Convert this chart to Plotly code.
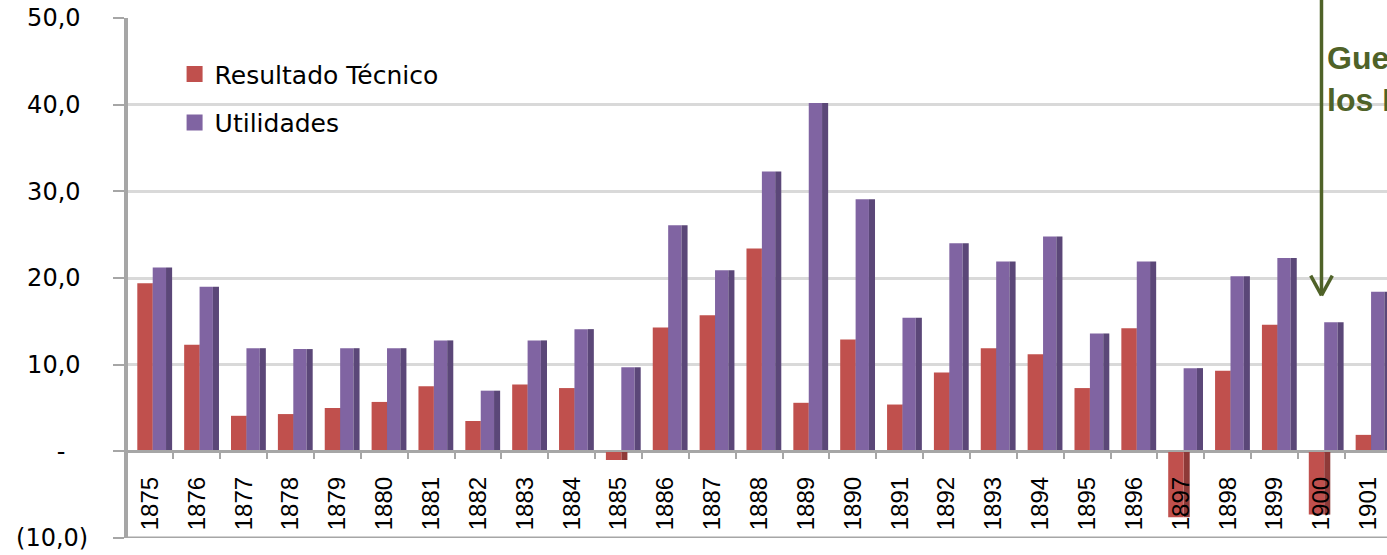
import plotly.graph_objects as go

# Años del período y resultados anuales (miles)
years = [str(y) for y in range(1875, 1902)]
resultado_tecnico = [19.4, 12.3, 4.1, 4.3, 5.0, 5.7, 7.5, 3.5, 7.7, 7.3,
                     -1.0, 14.3, 15.7, 23.4, 5.6, 12.9, 5.4, 9.1, 11.9, 11.2,
                     7.3, 14.2, -7.6, 9.3, 14.6, -7.3, 1.9]
utilidades = [21.2, 19.0, 11.9, 11.8, 11.9, 11.9, 12.8, 7.0, 12.8, 14.1,
              9.7, 26.1, 20.9, 32.3, 40.2, 29.1, 15.4, 24.0, 21.9, 24.8,
              13.6, 21.9, 9.6, 20.2, 22.3, 14.9, 18.4]

y_tick_values = [-10, 0, 10, 20, 30, 40, 50]
y_tick_labels = ["(10,0)", "-\u00a0\u00a0\u00a0", "10,0\u00a0", "20,0\u00a0",
                 "30,0\u00a0", "40,0\u00a0", "50,0\u00a0"]

annotation_text = "Guerra de<br>los Mil Días"
annotation_year_index = years.index("1900")
annotation_value = 18.0

RED = "#C0504D"
RED_SIDE = "#8E3A38"
PURPLE = "#8064A2"
PURPLE_SIDE = "#5B4778"
AXIS_GREY = "#A6A6A6"
OLIVE = "#4F6228"

Y_MIN, Y_MAX = -10, 50

# bar geometry in category units (front face + shaded right side)
RED_OFFSET, RED_WIDTH = -0.271, 0.329
PURPLE_OFFSET, PURPLE_WIDTH = 0.058, 0.284
SIDE_WIDTH = 0.13

fig = go.Figure()

fig.add_trace(go.Bar(
    x=years, y=resultado_tecnico, name="Resultado Técnico",
    offset=RED_OFFSET + RED_WIDTH, width=SIDE_WIDTH,
    marker=dict(color=RED_SIDE, line=dict(width=0)),
    legendgroup="rt", showlegend=False, hoverinfo="skip"))
fig.add_trace(go.Bar(
    x=years, y=resultado_tecnico, name="Resultado Técnico",
    offset=RED_OFFSET, width=RED_WIDTH,
    marker=dict(color=RED, line=dict(width=0)),
    legendgroup="rt", showlegend=False))
fig.add_trace(go.Bar(
    x=years, y=utilidades, name="Utilidades",
    offset=PURPLE_OFFSET, width=PURPLE_WIDTH,
    marker=dict(color=PURPLE, line=dict(width=0)),
    legendgroup="ut", showlegend=False))
fig.add_trace(go.Bar(
    x=years, y=utilidades, name="Utilidades",
    offset=PURPLE_OFFSET + PURPLE_WIDTH, width=SIDE_WIDTH,
    marker=dict(color=PURPLE_SIDE, line=dict(width=0)),
    legendgroup="ut", showlegend=False, hoverinfo="skip"))

# legend keys: large square swatches for each series
for name, color, group in [("Resultado Técnico", RED, "rt"),
                           ("Utilidades", PURPLE, "ut")]:
    fig.add_trace(go.Scatter(
        x=[None], y=[None], name=name, mode="markers",
        marker=dict(symbol="square", size=19, color=color),
        legendgroup=group, showlegend=True, hoverinfo="skip"))

# arrow pointing at the 1900 column
tip_paper = (annotation_value - Y_MIN) / (Y_MAX - Y_MIN)
head_h = 0.038
head_w = 0.23
arrow_line = dict(color=OLIVE, width=3.5)
shapes = [
    dict(type="line", xref="paper", yref="y", x0=0, x1=1, y0=Y_MIN, y1=Y_MIN,
         line=dict(color=AXIS_GREY, width=3)),
    dict(type="line", xref="x", yref="paper",
         x0=annotation_year_index, x1=annotation_year_index,
         y0=tip_paper, y1=1.06, line=arrow_line),
    dict(type="line", xref="x", yref="paper",
         x0=annotation_year_index - head_w, x1=annotation_year_index,
         y0=tip_paper + head_h, y1=tip_paper, line=arrow_line),
    dict(type="line", xref="x", yref="paper",
         x0=annotation_year_index + head_w, x1=annotation_year_index,
         y0=tip_paper + head_h, y1=tip_paper, line=arrow_line),
]

fig.update_layout(
    width=1387, height=555,
    margin=dict(l=128, r=0, t=18, b=17, pad=0),
    paper_bgcolor="white", plot_bgcolor="white",
    barmode="overlay",
    shapes=shapes,
    legend=dict(
        x=0.037, y=0.936, xanchor="left", yanchor="top",
        bgcolor="rgba(0,0,0,0)",
        font=dict(family="DejaVu Sans", size=25, color="black"),
        tracegroupgap=13,
    ),
    annotations=[dict(
        text="<b>" + annotation_text + "</b>",
        xref="paper", yref="paper", x=0.9507, y=0.883,
        xanchor="left", yanchor="middle", align="left",
        showarrow=False,
        font=dict(family="Liberation Sans", size=32, color=OLIVE),
    )],
    xaxis=dict(
        type="category", range=[-0.4695, 26.398],
        anchor="free", position=(0 - Y_MIN) / (Y_MAX - Y_MIN),
        showline=True, linecolor=AXIS_GREY, linewidth=2,
        ticks="outside", tickson="boundaries", ticklen=7, tickwidth=2,
        tickcolor=AXIS_GREY, tickangle=-90, ticklabelstandoff=15,
        tickfont=dict(family="Liberation Sans", size=24, color="black"),
        showgrid=False, zeroline=False,
    ),
    yaxis=dict(
        range=[Y_MIN, Y_MAX], tickvals=y_tick_values, ticktext=y_tick_labels,
        showgrid=True, gridcolor="#D9D9D9", gridwidth=2.5,
        zeroline=True, zerolinecolor=AXIS_GREY, zerolinewidth=3,
        showline=True, linecolor=AXIS_GREY, linewidth=4,
        ticks="outside", ticklen=11, tickwidth=2, tickcolor=AXIS_GREY,
        ticklabelstandoff=20,
        tickfont=dict(family="DejaVu Sans", size=24, color="black"),
    ),
)

fig.write_html("out.html")
